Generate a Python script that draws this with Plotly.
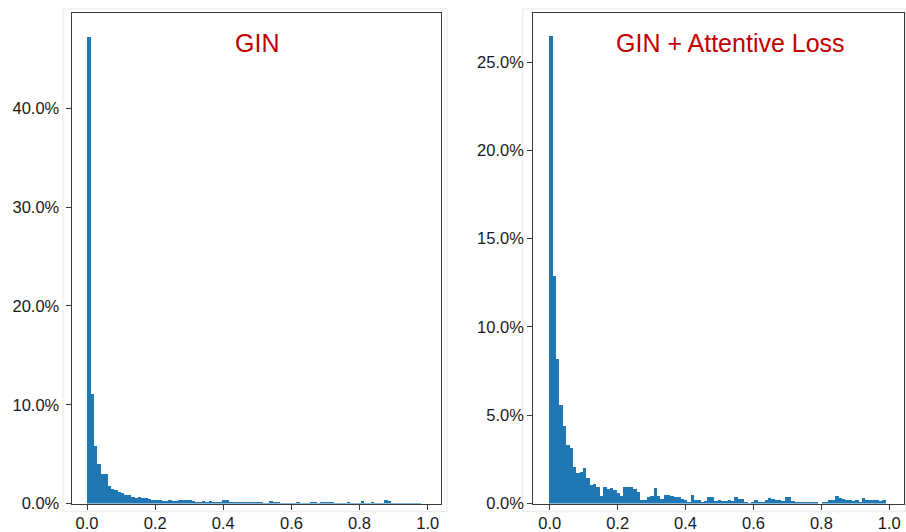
import plotly.graph_objects as go

# ---- data (percent of samples per bin, 100 bins over [0, 0.99]) ----
bin_width = 0.0099
n_bins = 100

gin_pct = [
    47.25, 11.1, 5.9, 4.0, 3.05, 3.0, 1.85, 1.52, 1.35, 1.15,
    1.1, 0.87, 0.85, 0.7, 0.62, 0.72, 0.62, 0.55, 0.5, 0.4,
    0.36, 0.4, 0.27, 0.28, 0.34, 0.27, 0.28, 0.34, 0.37, 0.36,
    0.38, 0.27, 0.17, 0.18, 0.27, 0.17, 0.26, 0.13, 0.12, 0.13,
    0.42, 0.38, 0.13, 0.12, 0.14, 0.13, 0.2, 0.2, 0.13, 0.14,
    0.2, 0.18, 0.07, 0.08, 0.27, 0.13, 0.2, 0.08, 0.07, 0.08,
    0.07, 0.08, 0.13, 0.07, 0.08, 0.07, 0.17, 0.17, 0.07, 0.17,
    0.17, 0.17, 0.17, 0.08, 0.07, 0.08, 0.07, 0.17, 0.07, 0.08,
    0.07, 0.27, 0.07, 0.08, 0.17, 0.07, 0.08, 0.07, 0.4, 0.27,
    0.07, 0.08, 0.07, 0.08, 0.07, 0.07, 0.08, 0.07, 0.07, 0.0,
]

att_pct = [
    26.5, 12.9, 8.2, 5.57, 4.43, 3.33, 3.16, 2.1, 1.72, 1.8,
    2.03, 1.46, 1.08, 1.15, 0.98, 0.45, 0.98, 0.82, 0.88, 0.8,
    0.61, 0.43, 0.95, 0.95, 0.95, 0.86, 0.67, 0.2, 0.2, 0.39,
    0.43, 0.9, 0.43, 0.29, 0.48, 0.52, 0.44, 0.39, 0.39, 0.29,
    0.2, 0.1, 0.48, 0.24, 0.2, 0.1, 0.15, 0.39, 0.39, 0.15,
    0.2, 0.14, 0.16, 0.2, 0.14, 0.39, 0.3, 0.29, 0.06, 0.02,
    0.1, 0.24, 0.1, 0.1, 0.2, 0.35, 0.3, 0.24, 0.2, 0.18,
    0.39, 0.39, 0.14, 0.12, 0.12, 0.1, 0.08, 0.08, 0.06, 0.05,
    0.0, 0.1, 0.1, 0.2, 0.2, 0.45, 0.35, 0.26, 0.24, 0.2,
    0.16, 0.2, 0.08, 0.35, 0.24, 0.24, 0.22, 0.2, 0.14, 0.22,
]

titles = ["GIN", "GIN + Attentive Loss"]
x_ticks = [0.0, 0.2, 0.4, 0.6, 0.8, 1.0]
gin_y_ticks = [0.0, 0.1, 0.2, 0.3, 0.4]
att_y_ticks = [0.0, 0.05, 0.10, 0.15, 0.20, 0.25]

centers = [bin_width * (i + 0.5) for i in range(n_bins)]

W, H = 906, 532
def px(x):
    return x / W
def py(y):
    return 1 - y / H

bar_color = "#1f77b4"
fig = go.Figure()
fig.add_trace(go.Bar(x=centers, y=[v / 100 for v in gin_pct], width=bin_width,
                     marker=dict(color=bar_color, line=dict(width=0)),
                     xaxis="x", yaxis="y", showlegend=False))
fig.add_trace(go.Bar(x=centers, y=[v / 100 for v in att_pct], width=bin_width,
                     marker=dict(color=bar_color, line=dict(width=0)),
                     xaxis="x2", yaxis="y2", showlegend=False))

font = "Liberation Sans, Arial, sans-serif"
tickfont = dict(family=font, size=16.5, color="#1a1a1a")
frame = dict(showline=True, linecolor="#3a3a3a", linewidth=1.3, mirror=True,
             showgrid=False, zeroline=False, ticks="outside", ticklen=5,
             tickwidth=1.2, tickcolor="#3a3a3a", tickfont=tickfont,
             automargin=False)

fig.update_layout(
    width=W, height=H,
    margin=dict(l=0, r=0, t=0, b=0),
    paper_bgcolor="white", plot_bgcolor="white",
    bargap=0,
    xaxis=dict(domain=[px(71.7), px(441)], range=[-0.045, 1.039],
               tickvals=x_ticks, tickformat=".1f", anchor="y",
               ticklabelstandoff=0, **frame),
    yaxis=dict(domain=[py(503.5), py(12.7)], range=[0, 0.497],
               tickvals=gin_y_ticks, tickformat=".1%", anchor="x",
               ticklabelstandoff=3, **frame),
    xaxis2=dict(domain=[px(533.3), px(904.3)], range=[-0.0483, 1.0442],
                tickvals=x_ticks, tickformat=".1f", anchor="y2",
                ticklabelstandoff=0, **frame),
    yaxis2=dict(domain=[py(503.5), py(12.7)], range=[0, 0.278],
                tickvals=att_y_ticks, tickformat=".1%", anchor="x2",
                ticklabelstandoff=0, **frame),
    shapes=[
        dict(type="rect", xref="paper", yref="paper",
             x0=px(63), x1=px(447), y0=py(511.7), y1=py(9),
             line=dict(color="#e8e8e8", width=1), layer="below"),
        dict(type="rect", xref="paper", yref="paper",
             x0=px(522.7), x1=px(905.5), y0=py(511.7), y1=py(9),
             line=dict(color="#e8e8e8", width=1), layer="below"),
    ],
    annotations=[
        dict(text=titles[0], xref="paper", yref="paper", x=px(256.5), y=py(42.5),
             xanchor="center", yanchor="middle", showarrow=False,
             font=dict(family=font, size=25, color="#c00000")),
        dict(text=titles[1], xref="paper", yref="paper", x=px(730.8), y=py(42.5),
             xanchor="center", yanchor="middle", showarrow=False,
             font=dict(family=font, size=25, color="#c00000")),
    ],
)

fig.write_html("out.html")
